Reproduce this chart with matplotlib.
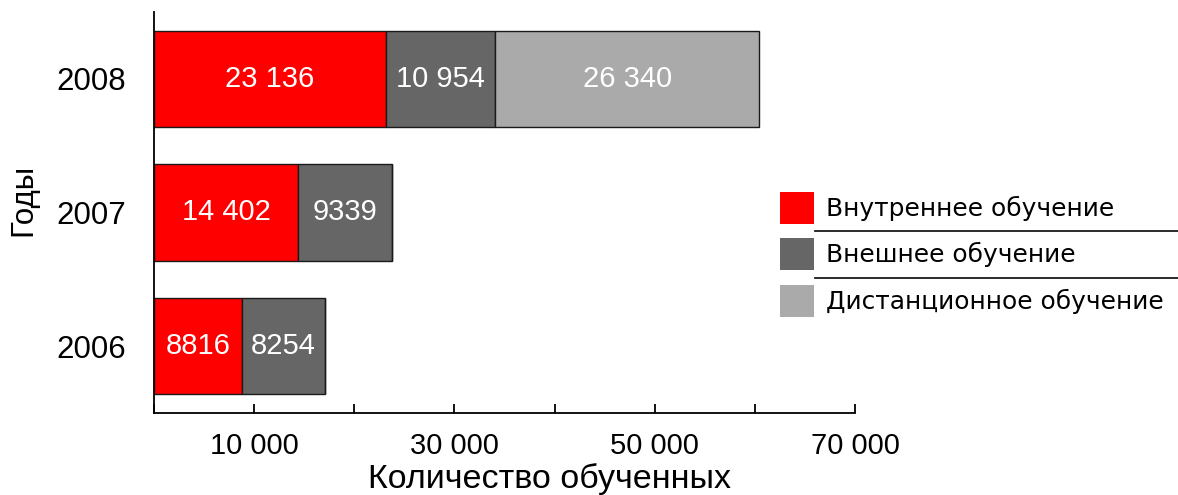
import matplotlib.pyplot as plt
from matplotlib.patches import Rectangle
from matplotlib.lines import Line2D
import numpy as np

# данные по годам
years = ['2006', '2007', '2008']
internal = [8816, 14402, 23136]
external = [8254, 9339, 10954]
distance = [0, 0, 26340]
series_names = ['Внутреннее обучение', 'Внешнее обучение', 'Дистанционное обучение']
colors = ['#ff0000', '#666666', '#aaaaaa']
x_ticks = [0, 10000, 20000, 30000, 40000, 50000, 60000, 70000]
x_labels = ['', '10 000', '', '30 000', '', '50 000', '', '70 000']

plain = ['Liberation Sans', 'DejaVu Sans']


def fmt(v):
    # 4-значные числа без пробела, дальше с пробелом
    if v >= 10000:
        return '{:,}'.format(v).replace(',', ' ')
    return str(v)


fig = plt.figure(figsize=(11.78, 4.95), dpi=100)
ax = fig.add_axes([154 / 1178, 1 - 413 / 495, 701 / 1178, 401 / 495])

y = np.arange(len(years))
left = np.zeros(len(years))
for vals, col in zip([internal, external, distance], colors):
    vals = np.array(vals)
    bars = ax.barh(y, vals, left=left, height=0.72, color=col,
                   edgecolor='#1a1a1a', linewidth=1.0)
    for b, v in zip(bars, vals):
        if v > 0:
            ax.text(b.get_x() + b.get_width() / 2, b.get_y() + b.get_height() / 2,
                    fmt(v), ha='center', va='center', color='white',
                    fontsize=21, family=plain)
    left = left + vals

ax.set_xlim(0, 70000)
ax.set_ylim(-0.5, 2.5)
ax.set_xticks(x_ticks)
ax.set_xticklabels(x_labels, family=plain, fontsize=21)
ax.set_yticks(y)
ax.set_yticklabels(years, family=plain, fontsize=22.5)
ax.tick_params(axis='x', direction='in', length=6.5, width=1.3, pad=14)
ax.tick_params(axis='y', length=0, pad=20)
for s in ['top', 'right']:
    ax.spines[s].set_visible(False)
for s in ['left', 'bottom']:
    ax.spines[s].set_linewidth(1.3)

ax.set_xlabel('Количество обученных', family=plain, fontsize=24.5)
ax.xaxis.set_label_coords((550 - 154) / 701, (413 - 479) / 401)
ax.xaxis.label.set_va('center')
ax.set_ylabel('Годы', family=plain, fontsize=22.5)
ax.yaxis.set_label_coords((23 - 154) / 701, (413 - 200) / 401)
ax.yaxis.label.set_va('center')

# легенда вручную: квадраты, подписи и линии-разделители
W, H = 1178, 495
sq_top = [192, 238, 285]
for top, col, name in zip(sq_top, colors, series_names):
    fig.patches.append(Rectangle((780 / W, 1 - (top + 32) / H), 34 / W, 32 / H,
                                 transform=fig.transFigure, facecolor=col,
                                 edgecolor='none'))
    fig.text(826 / W, 1 - (top + 16) / H, name, ha='left', va='center',
             fontsize=17.9, family=['DejaVu Sans'])
for yy in [231, 278]:
    fig.lines.append(Line2D([815 / W, 1.0], [1 - yy / H, 1 - yy / H],
                            transform=fig.transFigure, color='#1a1a1a', linewidth=1.3))

plt.savefig('out.png', dpi=100)
